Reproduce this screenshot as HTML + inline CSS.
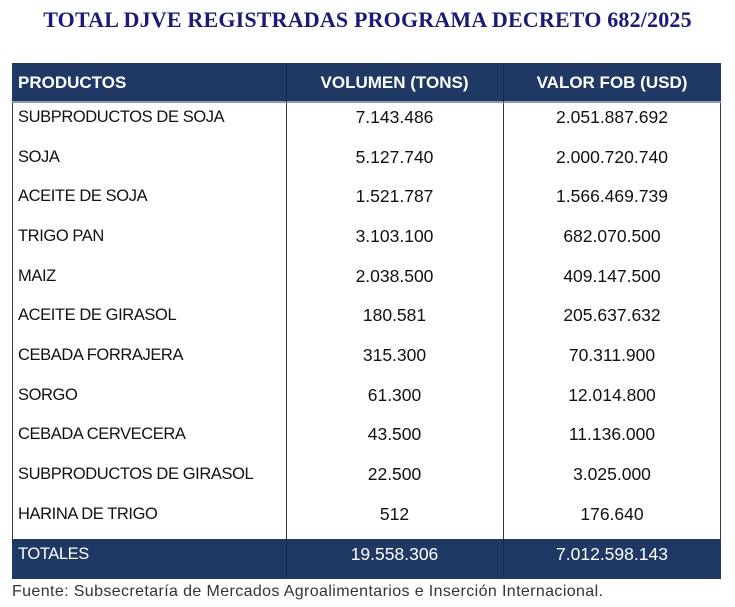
<!DOCTYPE html>
<html>
<head>
<meta charset="utf-8">
<style>
  html,body{margin:0;padding:0;background:#ffffff;}
  body{width:735px;height:607px;position:relative;overflow:hidden;font-family:"Liberation Sans",Arial,sans-serif;}
  .abs{position:absolute;white-space:nowrap;}
  .title{left:0;width:735px;top:7px;height:26px;line-height:26px;text-align:center;font-family:"Liberation Serif","Times New Roman",serif;font-weight:bold;font-size:22px;letter-spacing:0.18px;color:#1b1a76;}
  .hdr{left:12px;top:63px;width:709px;height:39px;background:#203864;}
  .hdrline{left:12px;top:101px;width:709px;height:2px;background:#8a9ab5;}
  .body{left:12px;top:102px;width:707px;height:437px;border-left:1px solid #3a3a3a;border-right:1px solid #3a3a3a;background:#fff;}
  .tot{left:12px;top:539px;width:709px;height:40px;background:#203864;}
  .vl{width:1px;background:#333;}
  .vlh{width:1px;background:#17294a;}
  .h{top:73px;height:20px;line-height:20px;font-size:17px;font-weight:bold;color:#fff;letter-spacing:0px;}
  .c{height:20px;line-height:20px;font-size:16.5px;color:#111;letter-spacing:-0.4px;}
  .c1{left:18px;}
  .c2{left:286px;width:217px;text-align:center;font-size:17.5px;letter-spacing:0px;}
  .c3{left:503px;width:218px;text-align:center;font-size:17.5px;letter-spacing:0px;}
  .w{color:#fff;}
  .foot{left:12px;top:582px;height:20px;line-height:20px;font-size:16px;letter-spacing:0.38px;color:#333;}
</style>
</head>
<body>
<div class="abs title">TOTAL DJVE REGISTRADAS PROGRAMA DECRETO 682/2025</div>

<div class="abs hdr"></div>
<div class="abs body"></div>
<div class="abs hdrline"></div>
<div class="abs tot"></div>

<div class="abs vlh" style="left:286px;top:63px;height:39px;"></div>
<div class="abs vlh" style="left:503px;top:63px;height:39px;"></div>
<div class="abs vl" style="left:286px;top:103px;height:436px;"></div>
<div class="abs vl" style="left:503px;top:103px;height:436px;"></div>
<div class="abs vlh" style="left:286px;top:539px;height:40px;"></div>
<div class="abs vlh" style="left:503px;top:539px;height:40px;"></div>

<div class="abs h c1">PRODUCTOS</div>
<div class="abs h" style="left:286px;width:217px;text-align:center;">VOLUMEN (TONS)</div>
<div class="abs h" style="left:503px;width:218px;text-align:center;">VALOR FOB (USD)</div>

<div class="abs c c1" style="top:107px">SUBPRODUCTOS DE SOJA</div>
<div class="abs c c2" style="top:107px">7.143.486</div>
<div class="abs c c3" style="top:107px">2.051.887.692</div>

<div class="abs c c1" style="top:147px">SOJA</div>
<div class="abs c c2" style="top:147px">5.127.740</div>
<div class="abs c c3" style="top:147px">2.000.720.740</div>

<div class="abs c c1" style="top:186px">ACEITE DE SOJA</div>
<div class="abs c c2" style="top:186px">1.521.787</div>
<div class="abs c c3" style="top:186px">1.566.469.739</div>

<div class="abs c c1" style="top:226px">TRIGO PAN</div>
<div class="abs c c2" style="top:226px">3.103.100</div>
<div class="abs c c3" style="top:226px">682.070.500</div>

<div class="abs c c1" style="top:266px">MAIZ</div>
<div class="abs c c2" style="top:266px">2.038.500</div>
<div class="abs c c3" style="top:266px">409.147.500</div>

<div class="abs c c1" style="top:305px">ACEITE DE GIRASOL</div>
<div class="abs c c2" style="top:305px">180.581</div>
<div class="abs c c3" style="top:305px">205.637.632</div>

<div class="abs c c1" style="top:345px">CEBADA FORRAJERA</div>
<div class="abs c c2" style="top:345px">315.300</div>
<div class="abs c c3" style="top:345px">70.311.900</div>

<div class="abs c c1" style="top:385px">SORGO</div>
<div class="abs c c2" style="top:385px">61.300</div>
<div class="abs c c3" style="top:385px">12.014.800</div>

<div class="abs c c1" style="top:424px">CEBADA CERVECERA</div>
<div class="abs c c2" style="top:424px">43.500</div>
<div class="abs c c3" style="top:424px">11.136.000</div>

<div class="abs c c1" style="top:464px">SUBPRODUCTOS DE GIRASOL</div>
<div class="abs c c2" style="top:464px">22.500</div>
<div class="abs c c3" style="top:464px">3.025.000</div>

<div class="abs c c1" style="top:504px">HARINA DE TRIGO</div>
<div class="abs c c2" style="top:504px">512</div>
<div class="abs c c3" style="top:504px">176.640</div>

<div class="abs c c1 w" style="top:544px">TOTALES</div>
<div class="abs c c2 w" style="top:544px">19.558.306</div>
<div class="abs c c3 w" style="top:544px">7.012.598.143</div>

<div class="abs foot">Fuente: Subsecretaría de Mercados Agroalimentarios e Inserción Internacional.</div>
</body>
</html>
